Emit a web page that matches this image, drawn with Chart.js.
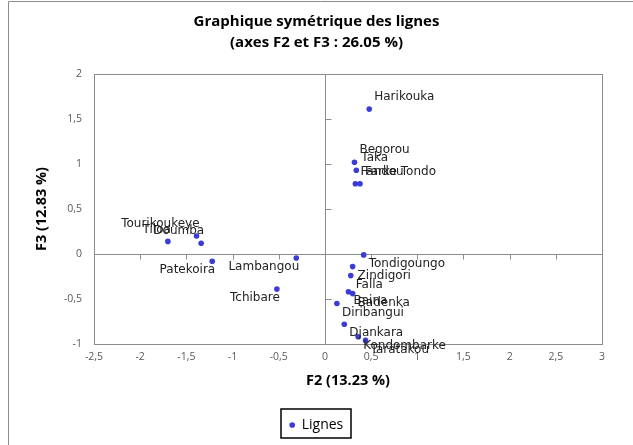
<!DOCTYPE html>
<html>
<head>
<meta charset="utf-8">
<script src="https://cdn.jsdelivr.net/npm/chart.js@4"></script>
<style>
  html, body { margin: 0; padding: 0; background: #fff; }
  #wrap { width: 633px; height: 445px; }
</style>
</head>
<body>
<div id="wrap"><canvas id="chart"></canvas></div>
<script>
// Row labels and their coordinates on factors F2 / F3
const names = [
    'Harikouka', 'Begorou', 'Taka', 'Fandou', 'Farke Tondo',
    'Tondigoungo', 'Zindigori', 'Falla', 'Baina', 'Badenka',
    'Diribangui', 'Djankara', 'Kondombarke', 'Taratakou',
    'Tourikoukeye', 'Tiloa', 'Doumba', 'Patekoira', 'Lambangou', 'Tchibare'
];
const f2 = [
    0.48, 0.32, 0.34, 0.33, 0.38,
    0.42, 0.30, 0.28, 0.255, 0.30,
    0.13, 0.21, 0.36, 0.44,
    -1.39, -1.70, -1.34, -1.22, -0.31, -0.52
];
const f3 = [
    1.61, 1.02, 0.93, 0.78, 0.78,
    -0.01, -0.14, -0.24, -0.42, -0.44,
    -0.55, -0.78, -0.92, -0.96,
    0.20, 0.14, 0.12, -0.08, -0.045, -0.39
];

const chartTitle = ['Graphique symétrique des lignes', '(axes F2 et F3 : 26.05 %)'];
const xTitle = 'F2 (13.23 %)';
const yTitle = 'F3 (12.83 %)';
const seriesName = 'Lignes';

const axisGray = '#8c8c8c';
const tickGray = '#595959';
const dotBlue = '#3b3bd6';

const comma = v => String(v).replace('.', ',');

// frame around the plot, zero axes with their tick marks, outer border
const framePlugin = {
    id: 'frame',
    beforeDatasetsDraw(chart) {
        const { ctx, chartArea: a, scales: { x, y } } = chart;
        ctx.save();
        ctx.strokeStyle = axisGray;
        ctx.lineWidth = 1;
        ctx.strokeRect(Math.round(a.left) + 0.5, Math.round(a.top) + 0.5,
            Math.round(a.right - a.left), Math.round(a.bottom - a.top));

        const x0 = Math.round(x.getPixelForValue(0)) + 0.5;
        const y0 = Math.round(y.getPixelForValue(0)) + 0.5;
        ctx.beginPath();
        ctx.moveTo(a.left, y0); ctx.lineTo(a.right, y0);
        ctx.moveTo(x0, a.top); ctx.lineTo(x0, a.bottom);
        x.ticks.forEach(t => {
            if (t.value === 0) return;
            const px = Math.round(x.getPixelForValue(t.value)) + 0.5;
            ctx.moveTo(px, y0); ctx.lineTo(px, y0 + 5);
        });
        y.ticks.forEach(t => {
            if (t.value === 0) return;
            const py = Math.round(y.getPixelForValue(t.value)) + 0.5;
            ctx.moveTo(x0, py); ctx.lineTo(x0 + 6, py);
        });
        ctx.stroke();

        // outer chart border (left and top edges)
        ctx.beginPath();
        ctx.moveTo(8.5, chart.height); ctx.lineTo(8.5, 1.5); ctx.lineTo(chart.width, 1.5);
        ctx.stroke();
        ctx.restore();
    }
};

// names beside each point, pushed away from the origin
const labelPlugin = {
    id: 'pointNames',
    afterDatasetsDraw(chart) {
        const { ctx } = chart;
        const meta = chart.getDatasetMeta(0);
        ctx.save();
        ctx.font = '12px "DejaVu Sans"';
        ctx.fillStyle = '#222';
        ctx.textBaseline = 'middle';
        meta.data.forEach((pt, i) => {
            const right = f2[i] >= 0;
            const up = f3[i] >= 0;
            ctx.textAlign = right ? 'left' : 'right';
            ctx.fillText(names[i], pt.x + (right ? 5 : 3), pt.y + (up ? -12 : 9));
        });
        ctx.restore();
    }
};

// black box around the legend entry
const legendBox = {
    id: 'legendBox',
    afterDraw(chart) {
        const box = chart.legend.legendHitBoxes[0];
        if (!box) return;
        const { ctx } = chart;
        ctx.save();
        ctx.strokeStyle = '#000';
        ctx.lineWidth = 1.5;
        ctx.strokeRect(Math.round(box.left) - 9, Math.round(box.top) - 9,
            Math.round(box.width) + 16, Math.round(box.height) + 15);
        ctx.restore();
    }
};

new Chart(document.getElementById('chart'), {
    type: 'scatter',
    data: {
        datasets: [{
            label: seriesName,
            data: f2.map((v, i) => ({ x: v, y: f3[i] })),
            backgroundColor: dotBlue,
            borderColor: dotBlue,
            pointRadius: 2.8,
            pointBorderWidth: 0
        }]
    },
    options: {
        responsive: true,
        maintainAspectRatio: false,
        animation: false,
        layout: { padding: { left: 31, right: 31, top: 0, bottom: 3 } },
        plugins: {
            title: {
                display: true,
                text: chartTitle,
                color: '#000',
                font: { family: '"Open Sans"', size: 15, weight: 'bold', lineHeight: 1.35 },
                padding: { top: 12, bottom: 21.5 }
            },
            legend: {
                position: 'bottom',
                labels: {
                    usePointStyle: true,
                    pointStyle: 'circle',
                    boxWidth: 5,
                    boxHeight: 4,
                    color: '#000',
                    font: { family: '"Open Sans"', size: 14 },
                    padding: 10
                }
            },
            tooltip: { enabled: false }
        },
        scales: {
            x: {
                min: -2.5,
                max: 3,
                afterFit(scale) { scale.height = 64; },
                grid: { display: false, drawTicks: false },
                border: { display: false },
                ticks: {
                    stepSize: 0.5,
                    padding: 7,
                    color: tickGray,
                    font: { family: '"Open Sans"', size: 10.5 },
                    callback: v => comma(v)
                },
                title: {
                    display: true,
                    text: xTitle,
                    color: '#000',
                    font: { family: '"Open Sans"', size: 14.5, weight: 'bold' },
                    padding: { top: 6, bottom: 18 }
                }
            },
            y: {
                min: -1,
                max: 2,
                afterFit(scale) { scale.width = 63; },
                grid: { display: false, drawTicks: false },
                border: { display: false },
                ticks: {
                    stepSize: 0.5,
                    padding: 12,
                    color: tickGray,
                    font: { family: '"Open Sans"', size: 10.5 },
                    callback: v => comma(v)
                },
                title: {
                    display: true,
                    text: yTitle,
                    color: '#000',
                    font: { family: '"Open Sans"', size: 14.5, weight: 'bold' },
                    padding: { top: 2, bottom: 0 }
                }
            }
        }
    },
    plugins: [framePlugin, labelPlugin, legendBox]
});
</script>
</body>
</html>
